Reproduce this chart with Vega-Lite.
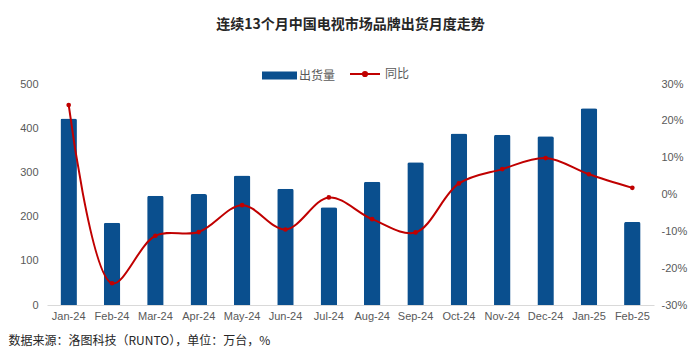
{
  "$schema": "https://vega.github.io/schema/vega-lite/v6.json",
  "autosize": {"type": "none"},
  "width": 607,
  "height": 221,
  "padding": {"left": 47, "top": 84, "right": 41, "bottom": 49},
  "background": "#ffffff",
  "title": {
    "text": "连续13个月中国电视市场品牌出货月度走势",
    "font": "Noto Sans CJK SC",
    "fontSize": 14,
    "fontWeight": "bold",
    "color": "#262626",
    "anchor": "middle",
    "offset": 26
  },
  "data": {
    "values": [
      {"month": "Jan-24", "ship": 422, "yoy": 24.3, "s1": "出货量", "s2": "同比"},
      {"month": "Feb-24", "ship": 186, "yoy": -24.1, "s1": "出货量", "s2": "同比"},
      {"month": "Mar-24", "ship": 247, "yoy": -11.2, "s1": "出货量", "s2": "同比"},
      {"month": "Apr-24", "ship": 251, "yoy": -10.2, "s1": "出货量", "s2": "同比"},
      {"month": "May-24", "ship": 293, "yoy": -2.9, "s1": "出货量", "s2": "同比"},
      {"month": "Jun-24", "ship": 263, "yoy": -9.5, "s1": "出货量", "s2": "同比"},
      {"month": "Jul-24", "ship": 221, "yoy": -0.8, "s1": "出货量", "s2": "同比"},
      {"month": "Aug-24", "ship": 279, "yoy": -6.7, "s1": "出货量", "s2": "同比"},
      {"month": "Sep-24", "ship": 323, "yoy": -10.3, "s1": "出货量", "s2": "同比"},
      {"month": "Oct-24", "ship": 388, "yoy": 3.0, "s1": "出货量", "s2": "同比"},
      {"month": "Nov-24", "ship": 385, "yoy": 6.9, "s1": "出货量", "s2": "同比"},
      {"month": "Dec-24", "ship": 382, "yoy": 9.9, "s1": "出货量", "s2": "同比"},
      {"month": "Jan-25", "ship": 445, "yoy": 5.5, "s1": "出货量", "s2": "同比"},
      {"month": "Feb-25", "ship": 188, "yoy": 1.8, "s1": "出货量", "s2": "同比"}
    ]
  },
  "encoding": {
    "x": {
      "field": "month",
      "type": "ordinal",
      "sort": null,
      "scale": {"paddingInner": 0, "paddingOuter": 0},
      "axis": {
        "title": "数据来源：洛图科技（RUNTO），单位：万台，%",
        "titleFont": "Noto Sans CJK SC",
        "titleFontSize": 12,
        "titleFontWeight": "normal",
        "titleColor": "#262626",
        "titleAnchor": "start",
        "titleAlign": "left",
        "titleBaseline": "middle",
        "titleX": -39,
        "titleY": 35,
        "labelAngle": 0,
        "labelFont": "Liberation Sans",
        "labelFontSize": 11,
        "labelColor": "#595959",
        "labelPadding": 5,
        "ticks": false,
        "domainColor": "#d9d9d9",
        "domainWidth": 1,
        "grid": false
      }
    }
  },
  "layer": [
    {
      "mark": {"type": "bar", "width": {"band": 0.38}, "cornerRadiusTopLeft": 2, "cornerRadiusTopRight": 2},
      "encoding": {
        "y": {
          "field": "ship",
          "type": "quantitative",
          "scale": {"domain": [0, 500], "nice": false},
          "axis": {
            "title": null,
            "values": [0, 100, 200, 300, 400, 500],
            "grid": false,
            "domain": false,
            "ticks": false,
            "labelFont": "Liberation Sans",
            "labelFontSize": 11,
            "labelColor": "#595959",
            "labelPadding": 9
          }
        },
        "color": {
          "field": "s1",
          "type": "nominal",
          "scale": {"range": ["#0A4F8E"]},
          "legend": {
            "title": null,
            "orient": "none",
            "legendX": 215,
            "legendY": -26,
            "symbolType": "M-1,-0.23H1V0.23H-1Z",
            "symbolSize": 1225,
            "symbolStrokeWidth": 0,
            "labelFont": "Noto Sans CJK SC",
            "labelFontSize": 12,
            "labelColor": "#595959",
            "labelOffset": 2
          }
        }
      }
    },
    {
      "mark": {"type": "line", "interpolate": "catmull-rom", "strokeWidth": 2},
      "encoding": {
        "y": {
          "field": "yoy",
          "type": "quantitative",
          "scale": {"domain": [-30, 30], "nice": false},
          "axis": {
            "orient": "right",
            "title": null,
            "values": [-30, -20, -10, 0, 10, 20, 30],
            "labelExpr": "datum.value + '%'",
            "grid": false,
            "domain": false,
            "ticks": false,
            "labelFont": "Liberation Sans",
            "labelFontSize": 11,
            "labelColor": "#595959",
            "labelPadding": 7
          }
        },
        "stroke": {
          "field": "s2",
          "type": "nominal",
          "scale": {"range": ["#C00000"]},
          "legend": {
            "title": null,
            "orient": "none",
            "legendX": 302,
            "legendY": -26,
            "symbolType": "M-1,0H1M0.14,0A0.14,0.14 0 1,1 -0.14,0A0.14,0.14 0 1,1 0.14,0",
            "symbolSize": 900,
            "symbolStrokeWidth": 2,
            "labelFont": "Noto Sans CJK SC",
            "labelFontSize": 12,
            "labelColor": "#595959",
            "labelOffset": 4,
            "encode": {"symbols": {"update": {"fill": {"value": "#C00000"}}}}
          }
        }
      }
    },
    {
      "mark": {"type": "point", "filled": true, "size": 22, "color": "#C00000", "opacity": 1},
      "encoding": {
        "y": {"field": "yoy", "type": "quantitative", "scale": {"domain": [-30, 30], "nice": false}, "axis": null}
      }
    }
  ],
  "resolve": {"scale": {"y": "independent"}},
  "config": {
    "view": {"stroke": null}
  }
}
